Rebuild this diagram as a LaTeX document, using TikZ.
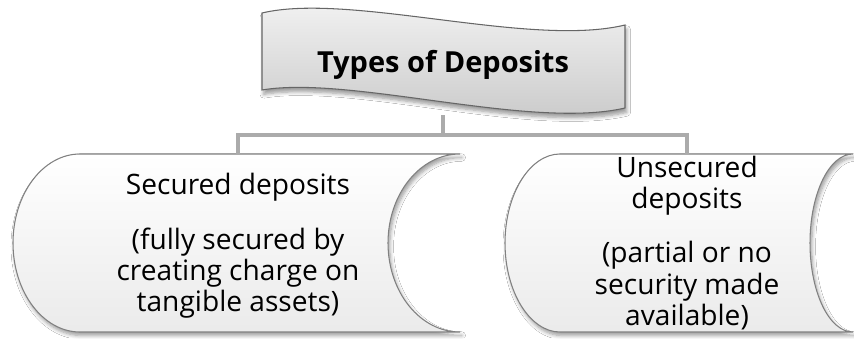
\documentclass[tikz,border=0pt]{standalone}
\usepackage{fontspec}
\setmainfont{Open Sans}
\usepackage{tikz}
\usetikzlibrary{shadows.blur}

\tikzset{
  anchorbox/.style={inner sep=0pt, minimum height=3.56cm},
  banner/.style={draw=black!60, line width=0.6pt, top color=black!4, bottom color=black!22,
    blur shadow={shadow xshift=1pt, shadow yshift=-2.5pt, shadow blur steps=6}},
  depbox/.style={draw=black!50, line width=0.6pt, top color=white, bottom color=black!8,
    blur shadow={shadow xshift=1pt, shadow yshift=-2pt, shadow blur steps=6}},
  boxtext/.style={align=center, inner sep=0pt, font=\fontsize{16}{17.8}\selectfont},
  link/.style={draw=black!33, line width=2.8pt}
}

\begin{document}
\begin{tikzpicture}[x=0.02cm, y=-0.02cm]
    \fill[white] (0,0) rectangle (854,338);
    \useasboundingbox (0,0) rectangle (854,338);

    % banner
    \path[banner] (262,13) .. controls (350,-8) and (530,48) .. (625,25)
      -- (625,108) .. controls (530,130) and (350,75) .. (262,90) -- cycle;
    \node[inner sep=0pt, minimum width=7.26cm, minimum height=2cm,
      font=\fontsize{16.5}{19}\bfseries\selectfont] (types) at (443,65) {Types of Deposits};

    % boxes
    \node[anchorbox, minimum width=8.94cm] (secured) at (236,243) {};
    \node[anchorbox, minimum width=6.96cm] (unsecured) at (679,243) {};

    \path[depbox] (80,154) -- (460,154)
      .. controls (420,154) and (388,194) .. (388,243)
      .. controls (388,292) and (420,332) .. (460,332) -- (80,332)
      .. controls (43,332) and (13,292) .. (13,243)
      .. controls (13,194) and (43,154) .. (80,154) -- cycle;
    \path[depbox] (560,154) -- (853,154)
      .. controls (829,154) and (810,194) .. (810,243)
      .. controls (810,292) and (829,332) .. (853,332) -- (560,332)
      .. controls (530,332) and (505,292) .. (505,243)
      .. controls (505,194) and (530,154) .. (560,154) -- cycle;

    \node[boxtext] (sectext) at (238,246)
      {Secured deposits\\[13pt](fully secured by\\creating charge on\\tangible assets)};
    \node[boxtext] (unsectext) at (687,243)
      {Unsecured\\deposits\\[13pt](partial or no\\security made\\available)};

    % connectors
    \coordinate (fork) at (443,135);
    \draw[link] (types.south) -- (fork);
    \draw[link] (secured.north -| sectext) |- (fork) -| (unsecured.north -| unsectext);
\end{tikzpicture}
\end{document}
